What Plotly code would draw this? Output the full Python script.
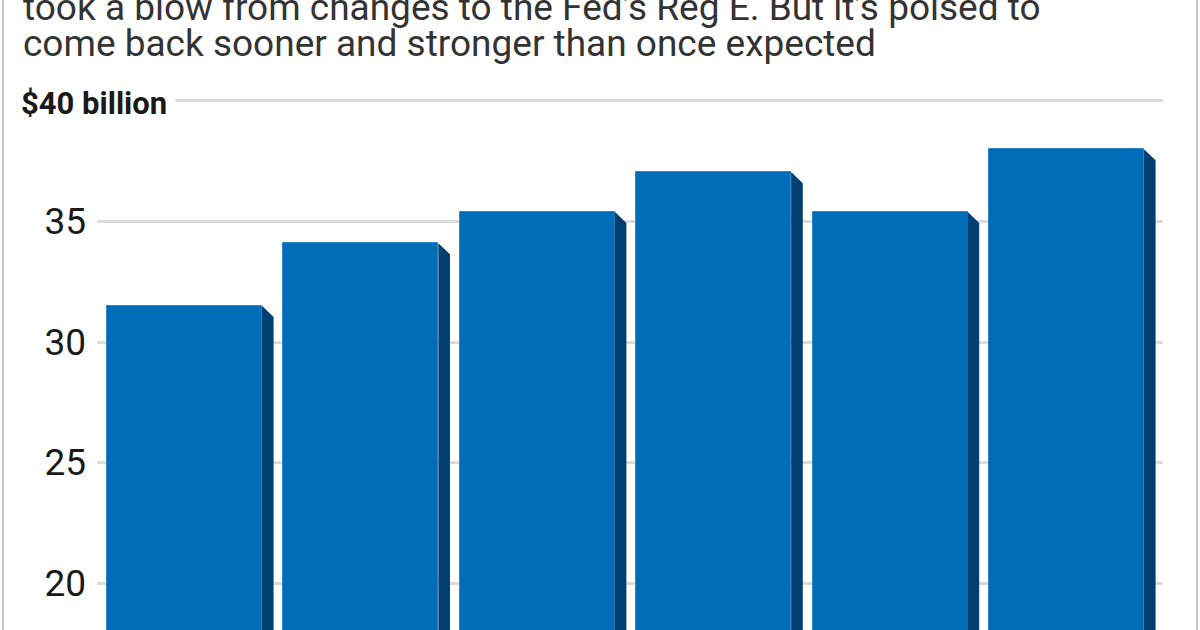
import plotly.graph_objects as go

# Data
categories = ["A", "B", "C", "D", "E", "F"]
values = [31.5, 34.1, 35.4, 37.05, 35.4, 38.0]
tick_vals = [20, 25, 30, 35]
tick_text = ["20", "25", "30", "35"]
top_tick = 40
top_tick_label = "$40 billion"
subtitle_lines = [
    "took a blow from changes to the Fed\u2019s Reg E. But it\u2019s poised to",
    "come back sooner and stronger than once expected",
]

FRONT = "#006db8"
SIDE = "#003f72"
bar_w = 0.878
dx = 0.066
dy = 0.46
y_lo, y_hi = 18.05, 40.456

# plot area in page pixels
L, R, T, B = 97, 1163, 90, 630
PW, PH = R - L, B - T


def px_x(p):
    return (p - L) / PW


def px_y(p):
    return 1 + (T - p) / PH


xs = list(range(len(categories)))
fig = go.Figure()

# Side faces (3D effect) computed from values
for i, v in zip(xs, values):
    xr = i + bar_w / 2
    fig.add_trace(go.Scatter(
        x=[xr, xr + dx, xr + dx, xr, xr],
        y=[v, v - dy, y_lo - 1, y_lo - 1, v],
        fill="toself", fillcolor=SIDE, mode="lines",
        line=dict(width=0, color=SIDE), hoverinfo="skip", showlegend=False,
    ))

fig.add_trace(go.Bar(
    x=xs, y=values, width=bar_w,
    marker=dict(color=FRONT, line=dict(width=1, color="#2d86c8")),
    showlegend=False,
))

fig.add_annotation(
    x=px_x(12), xref="paper", xanchor="left",
    y=top_tick, yref="y", yanchor="middle", yshift=-3,
    text="<b>" + top_tick_label + "</b>", showarrow=False, align="left",
    font=dict(family="Roboto, Liberation Sans, Arial", size=31, color="#1a1a1a"),
    bgcolor="white", borderpad=8,
)

centers = [7, 44]
for k, line in enumerate(subtitle_lines):
    fig.add_annotation(
        x=px_x(21), xref="paper", y=px_y(centers[k]), yref="paper",
        text=line, showarrow=False, xanchor="left", yanchor="middle",
        font=dict(family="Roboto, Liberation Sans, Arial", size=37, color="#333333"),
    )

fig.update_layout(
    width=1200, height=630,
    margin=dict(l=L, r=1200 - R, t=T, b=630 - B),
    paper_bgcolor="white", plot_bgcolor="white",
    bargap=0,
    xaxis=dict(range=[-0.496, 5.547], showticklabels=False, showgrid=False,
               zeroline=False, showline=False, ticks=""),
    yaxis=dict(range=[y_lo, y_hi], tickvals=tick_vals + [top_tick], ticktext=tick_text + [""],
               showgrid=True, gridcolor="#dcdcdc", gridwidth=3, zeroline=False,
               showline=False, ticks="", ticklabelstandoff=10, automargin=False,
               tickfont=dict(family="Roboto, Liberation Sans, Arial", size=37, color="#1a1a1a")),
    shapes=[
        dict(type="line", xref="paper", yref="paper", x0=px_x(3), x1=px_x(3),
             y0=-0.2, y1=1.2, line=dict(color="#c8c8c8", width=2)),
        dict(type="line", xref="paper", yref="paper", x0=px_x(1197), x1=px_x(1197),
             y0=-0.2, y1=1.2, line=dict(color="#c8c8c8", width=2)),
    ],
)

fig.write_html("out.html", config={"displayModeBar": False},
               post_script="document.body.style.margin='0';")
